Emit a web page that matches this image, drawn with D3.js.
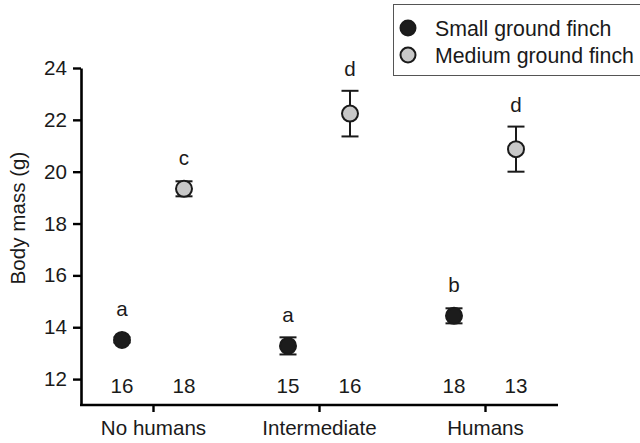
<!DOCTYPE html>
<html>
<head>
<meta charset="utf-8">
<script src="https://cdn.jsdelivr.net/npm/d3@7"></script>
<style>
  body { margin: 0; background: #fff; }
  svg { display: block; font-family: 'Liberation Sans', Arial, sans-serif; }
</style>
</head>
<body>
<div id="chart"></div>
<script>
const categories = ['No humans', 'Intermediate', 'Humans'];
const species = ['Small ground finch', 'Medium ground finch'];
const smallMean = [13.51, 13.28, 14.44];
const smallErr = [0.1, 0.33, 0.29];
const mediumMean = [19.34, 22.24, 20.87];
const mediumErr = [0.29, 0.88, 0.87];
const smallN = [16, 15, 18];
const mediumN = [18, 16, 13];
const smallLetters = ['a', 'a', 'b'];
const mediumLetters = ['c', 'd', 'd'];
const yTicks = [12, 14, 16, 18, 20, 22, 24];

const width = 640;
const height = 443;
const fontSize = 20.6;
const legendFont = 21.3;

const svg = d3.select('#chart').append('svg')
  .attr('width', width)
  .attr('height', height);

const x = d3.scalePoint()
  .domain(categories)
  .range([153, 485]);

const offset = d3.scalePoint()
  .domain(species)
  .range([-31, 31]);

const y = d3.scaleLinear()
  .domain([11, 24])
  .range([405, 68]);

const fills = { 'Small ground finch': '#1c1c1c', 'Medium ground finch': '#c8c8c8' };

const rows = [];
categories.forEach((c, i) => {
  rows.push({ cat: c, sp: species[0], mean: smallMean[i], err: smallErr[i], n: smallN[i], letter: smallLetters[i] });
  rows.push({ cat: c, sp: species[1], mean: mediumMean[i], err: mediumErr[i], n: mediumN[i], letter: mediumLetters[i] });
});

// y axis
const yAxis = svg.append('g')
  .attr('transform', 'translate(81,0)')
  .call(d3.axisLeft(y).tickValues(yTicks).tickSize(8).tickSizeOuter(0).tickPadding(6));
yAxis.select('.domain').attr('stroke-width', 2.6);
yAxis.selectAll('.tick line').attr('stroke-width', 2.4);
yAxis.selectAll('.tick text').attr('font-size', fontSize).attr('fill', '#1a1a1a').attr('font-family', null);

// x axis
const xAxis = svg.append('g')
  .attr('transform', 'translate(0,405)')
  .call(d3.axisBottom(x).tickSize(7).tickSizeOuter(0).tickPadding(8));
xAxis.select('.domain').remove();
xAxis.insert('line', ':first-child')
  .attr('x1', 80).attr('x2', 558)
  .attr('stroke', '#000').attr('stroke-width', 2.6);
xAxis.selectAll('.tick line').attr('stroke-width', 2.4);
xAxis.selectAll('.tick text').attr('font-size', fontSize).attr('fill', '#1a1a1a').attr('font-family', null);

// y title
svg.append('text')
  .attr('transform', 'translate(25,218) rotate(-90)')
  .attr('text-anchor', 'middle')
  .attr('font-size', fontSize)
  .attr('fill', '#1a1a1a')
  .text('Body mass (g)');

const px = d => x(d.cat) + offset(d.sp);

// error bars
const eb = svg.append('g').selectAll('g')
  .data(rows)
  .join('g')
  .attr('stroke', '#1a1a1a')
  .attr('stroke-width', 2);
eb.append('line')
  .attr('x1', px).attr('x2', px)
  .attr('y1', d => y(d.mean + d.err)).attr('y2', d => y(d.mean - d.err));
eb.append('line')
  .attr('x1', d => px(d) - 8.5).attr('x2', d => px(d) + 8.5)
  .attr('y1', d => y(d.mean + d.err)).attr('y2', d => y(d.mean + d.err));
eb.append('line')
  .attr('x1', d => px(d) - 8.5).attr('x2', d => px(d) + 8.5)
  .attr('y1', d => y(d.mean - d.err)).attr('y2', d => y(d.mean - d.err));

// points
svg.append('g').selectAll('circle')
  .data(rows)
  .join('circle')
  .attr('cx', px)
  .attr('cy', d => y(d.mean))
  .attr('r', 8)
  .attr('fill', d => fills[d.sp])
  .attr('stroke', '#1a1a1a')
  .attr('stroke-width', 2);

// significance letters
svg.append('g').selectAll('text')
  .data(rows)
  .join('text')
  .attr('x', px)
  .attr('y', d => Math.min(y(d.mean + d.err), y(d.mean) - 9) - 15)
  .attr('text-anchor', 'middle')
  .attr('font-size', fontSize)
  .attr('fill', '#1a1a1a')
  .text(d => d.letter);

// sample sizes
svg.append('g').selectAll('text')
  .data(rows)
  .join('text')
  .attr('x', px)
  .attr('y', 393)
  .attr('text-anchor', 'middle')
  .attr('font-size', fontSize)
  .attr('fill', '#1a1a1a')
  .text(d => d.n);

// legend
const legend = svg.append('g');
legend.append('rect')
  .attr('x', 393.5).attr('y', 4.5)
  .attr('width', 260).attr('height', 71)
  .attr('fill', '#fff')
  .attr('stroke', '#555')
  .attr('stroke-width', 1);
const li = legend.selectAll('g')
  .data(species)
  .join('g')
  .attr('transform', (d, i) => `translate(0,${28 + i * 27})`);
li.append('circle')
  .attr('cx', 408).attr('cy', 0).attr('r', 7.5)
  .attr('fill', d => fills[d])
  .attr('stroke', '#1a1a1a')
  .attr('stroke-width', 2);
li.append('text')
  .attr('x', 435).attr('y', 7.5)
  .attr('font-size', legendFont)
  .attr('fill', '#1a1a1a')
  .text(d => d);
</script>
</body>
</html>
